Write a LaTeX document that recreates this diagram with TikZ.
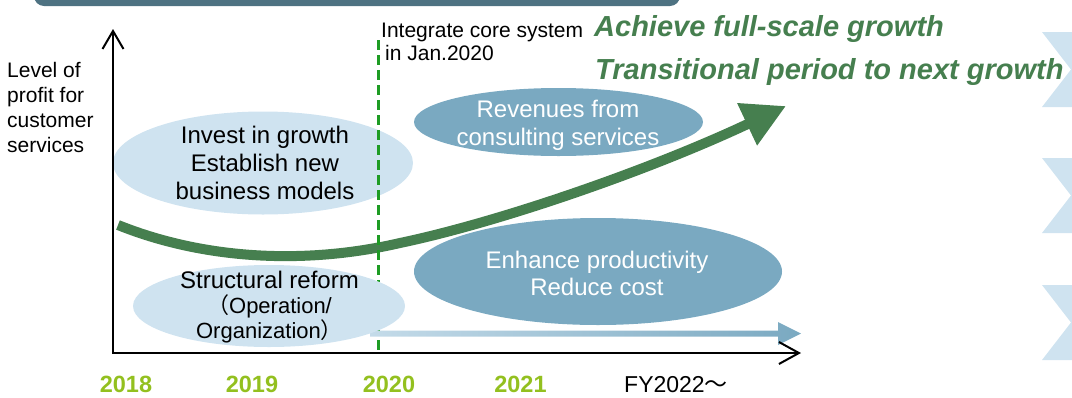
\documentclass[tikz,border=0pt]{standalone}
\usepackage{fontspec}
\setmainfont{Liberation Sans}
\newfontfamily\cjk{Noto Sans CJK SC}
\usetikzlibrary{arrows.meta,shapes.geometric}

\definecolor{barslate}{HTML}{4E7282}
\definecolor{paleblue}{HTML}{CFE3F0}
\definecolor{steelblue}{HTML}{7AA9C1}
\definecolor{growgreen}{HTML}{467F4F}
\definecolor{markgreen}{HTML}{1E9C24}
\definecolor{yeargreen}{HTML}{93C01F}
\definecolor{shaftlight}{HTML}{C4DBE9}

\begin{document}
\begin{tikzpicture}[x=1pt,y=-1pt,
  bubble/.style={ellipse, inner sep=0pt, draw=none},
  palebubble/.style={bubble, fill=paleblue},
  steelbubble/.style={bubble, fill=steelblue},
  bubbletext/.style={align=center, inner sep=0pt, font=\fontsize{24}{28}\selectfont},
  axisline/.style={line width=2pt, black},
  yearlabel/.style={anchor=base, inner sep=0pt, text=yeargreen, font=\bfseries\fontsize{23.5}{23.5}\selectfont},
  headline/.style={anchor=base west, inner sep=0pt, text=growgreen, font=\bfseries\itshape\fontsize{29}{29}\selectfont},
  chevron/.style={fill=paleblue},
  note/.style={align=left, inner sep=0pt, anchor=north west}
]
\useasboundingbox (0,0) rectangle (1072,397);
\clip (0,0) rectangle (1072,397);

% header bar
\fill[barslate, rounded corners=10pt] (34,-20) rectangle (680,6);

% chevrons along the right edge
\foreach \t in {32,158,285}
  \fill[chevron] (1042,\t) -- (1080,\t) -- (1080,\t+75) -- (1042,\t+75) -- (1071,\t+37.5) -- cycle;

% upper bubbles
\node[palebubble, minimum width=300pt, minimum height=103pt] (invest) at (263,163) {};
\node[steelbubble, minimum width=289pt, minimum height=68pt] (consult) at (558.5,122) {};
\node[steelbubble, minimum width=368pt, minimum height=107pt] (enhance) at (598,271.5) {};

% profit curve
\coordinate (curveStart) at (118,225);
\coordinate (curveMid) at (400,243);
\coordinate (curveTip) at (786,106);
\draw[growgreen, line width=10pt, -{Triangle[length=43pt,width=44pt]}]
  (curveStart) .. controls (200,258) and (300,266) .. (curveMid)
  .. controls (500,222) and (650,170) .. (curveTip);

% core system integration marker
\coordinate (markTop) at (378,40);
\coordinate (markBottom) at (378,350);
\draw[markgreen, line width=3pt, dash pattern=on 10pt off 5pt] (markTop) -- (markBottom);

% productivity trend arrow
\shade[left color=shaftlight, right color=steelblue]
  (370,330.5) -- (778,330.5) -- (778,322) -- (801,333.5) -- (778,345) -- (778,336.5) -- (370,336.5) -- cycle;

% structural reform bubble
\node[palebubble, minimum width=272pt, minimum height=82pt] (reform) at (269,306) {};

% axes
\coordinate (yTip) at (113,29);
\coordinate (origin) at (113,353);
\coordinate (xTip) at (801,353);
\draw[axisline, {Straight Barb[length=18pt,width=21pt]}-{Straight Barb[length=20pt,width=22pt]}]
  (yTip) -- (origin) -- (xTip);

% labels
\node[note, font=\fontsize{21}{25}\selectfont] (ylabel) at (7,61.7) {Level of\\profit for\\customer\\services};
\node[note, font=\fontsize{21}{23}\selectfont] (coremark) at (381,22.5) {Integrate core system\\\hspace*{4pt}in Jan.2020};

\node[headline] (fullgrowth) at (594,36) {Achieve full-scale growth};
\node[headline] (transition) at (595,79) {Transitional period to next growth};

\node[bubbletext] (investText) at (265,163) {Invest in growth\\Establish new\\business models};
\node[bubbletext, text=white] (consultText) at (558,125) {Revenues from\\consulting services};
\node[bubbletext, text=white, font=\fontsize{24}{27}\selectfont] (enhanceText) at (597,273) {Enhance productivity\\Reduce cost};
\node[bubbletext, font=\fontsize{22}{25}\selectfont] (reformText) at (269.5,307.5)
  {{\fontsize{24}{25}\selectfont Structural reform}\\{\cjk （}Operation/\\Organization{\cjk ）}};

% fiscal years
\node[yearlabel] (y2018) at (126,392) {2018};
\node[yearlabel] (y2019) at (252,392) {2019};
\node[yearlabel] (y2020) at (389,392) {2020};
\node[yearlabel] (y2021) at (520.5,392) {2021};
\node[anchor=base west, inner sep=0pt, font=\fontsize{23}{23}\selectfont] (fy) at (624,392) {FY2022{\cjk ～}};
\end{tikzpicture}
\end{document}
